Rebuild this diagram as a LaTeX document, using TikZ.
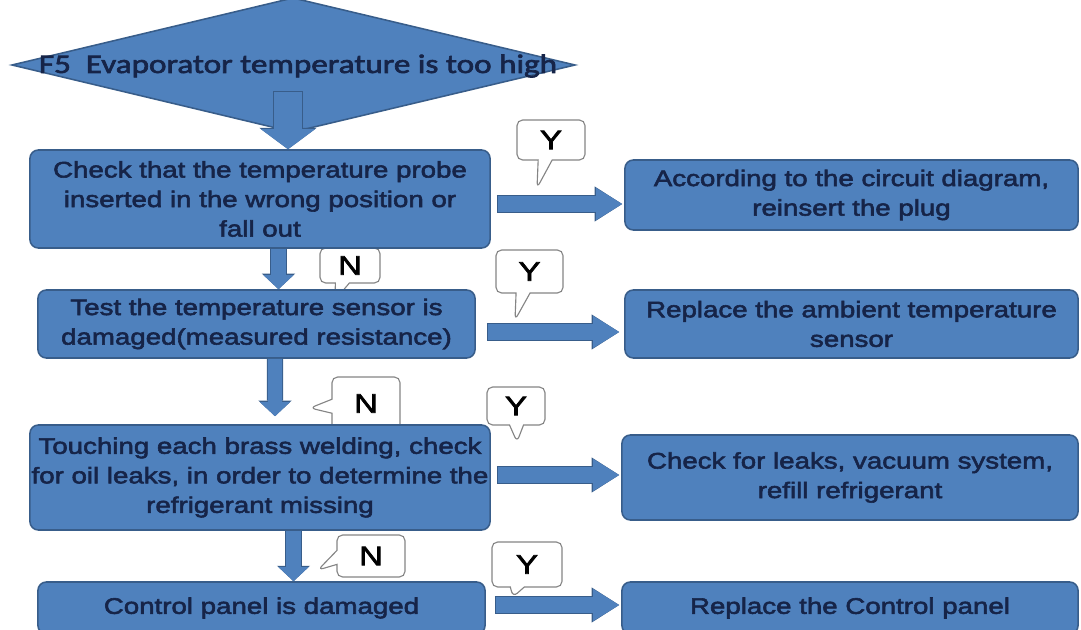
\documentclass[tikz,border=0pt]{standalone}
\usepackage{fontspec}
\setmainfont[FakeStretch=1.23, FakeBold=2.5]{Liberation Sans}
\newfontfamily\calfont[FakeStretch=1.24, FakeBold=2.5]{Carlito}
\usetikzlibrary{arrows.meta,positioning,calc,shapes.callouts}
\definecolor{boxblue}{HTML}{4F81BD}
\definecolor{boxline}{HTML}{385D8A}
\definecolor{boxtext}{RGB}{22,36,72}
\definecolor{calloutline}{HTML}{858585}
\pgfdeclarelayer{background}
\pgfsetlayers{background,main}

\begin{document}
\begin{tikzpicture}[
  x=0.025cm, y=-0.025cm,
  font=\fontsize{16}{21}\selectfont,
  stepbox/.style={draw=boxline, line width=1.1pt, fill=boxblue, rounded corners=6pt, align=center, text=boxtext, inner sep=1pt},
  callbox/.style={rectangle callout, draw=calloutline, line width=0.8pt, fill=white, rounded corners=4pt, callout pointer width=0.35cm, inner sep=0pt, font=\fontsize{19}{20}\selectfont, text=black},
  rarrow/.style={draw=boxblue, line width=10.7pt,
    -{Triangle[line width=0pt, width=22.8pt, length=18.5pt]},
    preaction={draw=boxline, line width=12.1pt, shorten <=-0.7pt,
      -{Triangle[line width=0pt, width=25pt, length=19.6pt]}}},
  darrow/.style={draw=boxblue, line width=10pt,
    -{Triangle[line width=0pt, width=21.3pt, length=10pt]},
    preaction={draw=boxline, line width=11.4pt, shorten <=-0.7pt,
      -{Triangle[line width=0pt, width=23.5pt, length=11pt]}}},
  bigdarrow/.style={draw=boxblue, line width=19.9pt,
    -{Triangle[line width=0pt, width=38.4pt, length=14.2pt]},
    preaction={draw=boxline, line width=21.3pt, shorten <=-0.7pt,
      -{Triangle[line width=0pt, width=40.8pt, length=15.2pt]}}}
]
\useasboundingbox (0,0) rectangle (1081,630);

% fault code
\draw[draw=boxline, line width=1.1pt, fill=boxblue] (12,65) -- (293,-2) -- (575,65) -- (293,132) -- cycle;
\node[text=boxtext, font=\calfont\fontsize{19}{20}\selectfont, inner sep=0pt] (f5) at (298,66) {F5\ \ Evaporator temperature is too high};

% checks
\node[stepbox, minimum width=11.5cm, minimum height=2.45cm] (c1) at (260,199) {Check that the temperature probe\\inserted in the wrong position or\\fall out};
\node[stepbox, minimum width=10.925cm, minimum height=1.7cm] (c2) at (256.5,324) {Test the temperature sensor is\\damaged(measured resistance)};
\node[stepbox, minimum width=11.5cm, minimum height=2.625cm] (c3) at (260,477.5) {Touching each brass welding, check\\for oil leaks, in order to determine the\\refrigerant missing};
\node[stepbox, minimum width=11.175cm, minimum height=1.3cm] (c4) at (261.5,608) {Control panel is damaged};

% remedies
\node[stepbox, minimum width=11.325cm, minimum height=1.75cm] (r1) at (851.5,195) {According to the circuit diagram,\\reinsert the plug};
\node[stepbox, minimum width=11.325cm, minimum height=1.7cm] (r2) at (851.5,324) {Replace the ambient temperature\\sensor};
\node[stepbox, minimum width=11.4cm, minimum height=2.125cm] (r3) at (850,477.5) {Check for leaks, vacuum system,\\refill refrigerant};
\node[stepbox, minimum width=11.4cm, minimum height=1.3cm] (r4) at (850,608) {Replace the Control panel};

% yes
\draw[rarrow] ($(c1.east)+(7,5)$) -- ($(c1.east -| r1.west)+(-2,5)$);
\draw[rarrow] ($(c2.east)+(12,8)$) -- ($(c2.east -| r2.west)+(-5,8)$);
\draw[rarrow] ($(c3.east)+(7,-2.5)$) -- ($(c3.east -| r3.west)+(-2,-2.5)$);
\draw[rarrow] ($(c4.east)+(10,-3)$) -- ($(c4.east -| r4.west)+(-2,-3)$);

% no
\draw[bigdarrow] ($(f5.center)+(-10,26)$) -- ($(f5.center |- c1.north)+(-10,0)$);
\draw[darrow] ($(c1.south)+(18.5,0)$) -- ($(c2.north)+(22,0)$);
\draw[darrow] ($(c2.south)+(18.5,0)$) -- ($(c3.north)+(15,-8)$);
\draw[darrow] ($(c3.south)+(33.5,0)$) -- ($(c4.north)+(32,0)$);

\begin{pgfonlayer}{background}
\node[callbox, minimum width=1.7cm, minimum height=1cm, callout absolute pointer={(537,188)}] (y1) at (551,140) {Y};
\node[callbox, minimum width=1.5cm, minimum height=0.875cm, callout absolute pointer={(335,300)}] (n1) at (350,265.5) {N};
\node[callbox, minimum width=1.675cm, minimum height=1.075cm, callout absolute pointer={(515,320)}] (y2) at (529.5,271.5) {Y};
\node[callbox, minimum width=1.7cm, minimum height=1.325cm, callout absolute pointer={(310,408)}] (n2) at (366,403.5) {N};
\node[callbox, minimum width=1.45cm, minimum height=0.95cm, callout absolute pointer={(517,442)}] (y3) at (516,406) {Y};
\node[callbox, minimum width=1.7cm, minimum height=1.05cm, callout absolute pointer={(318,570)}] (n3) at (371,556) {N};
\node[callbox, minimum width=1.75cm, minimum height=1.125cm, callout absolute pointer={(513,597)}] (y4) at (527,564.5) {Y};
\end{pgfonlayer}
\end{tikzpicture}
\end{document}
